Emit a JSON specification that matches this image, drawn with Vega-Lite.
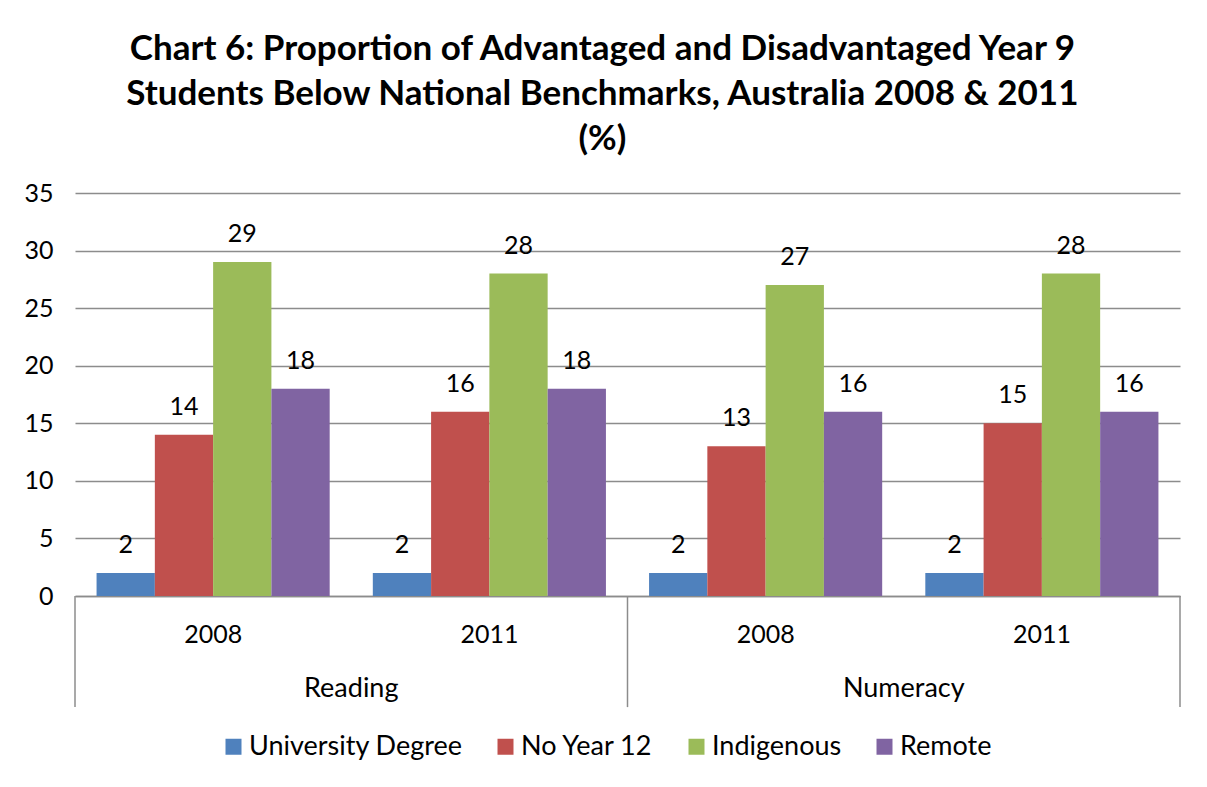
{
  "$schema": "https://vega.github.io/schema/vega-lite/v6.json",
  "width": 1105,
  "height": 403,
  "padding": {"left": 23, "top": 32, "right": 25, "bottom": 10},
  "background": "white",
  "config": {
    "font": "Lato",
    "view": {"stroke": null},
    "text": {"font": "Lato", "color": "black"}
  },
  "title": {
    "text": ["Chart 6: Proportion of Advantaged and Disadvantaged Year 9", "Students Below National Benchmarks, Australia 2008 & 2011", "(%)"],
    "fontSize": 35,
    "fontWeight": "bold",
    "font": "Lato",
    "lineHeight": 45,
    "anchor": "middle",
    "frame": "bounds",
    "color": "black",
    "offset": 24
  },
  "data": {
    "values": [
      {"subject": "Reading", "year": "2008", "group": "Reading 2008", "series": "University Degree", "value": 2},
      {"subject": "Reading", "year": "2008", "group": "Reading 2008", "series": "No Year 12", "value": 14},
      {"subject": "Reading", "year": "2008", "group": "Reading 2008", "series": "Indigenous", "value": 29},
      {"subject": "Reading", "year": "2008", "group": "Reading 2008", "series": "Remote", "value": 18},
      {"subject": "Reading", "year": "2011", "group": "Reading 2011", "series": "University Degree", "value": 2},
      {"subject": "Reading", "year": "2011", "group": "Reading 2011", "series": "No Year 12", "value": 16},
      {"subject": "Reading", "year": "2011", "group": "Reading 2011", "series": "Indigenous", "value": 28},
      {"subject": "Reading", "year": "2011", "group": "Reading 2011", "series": "Remote", "value": 18},
      {"subject": "Numeracy", "year": "2008", "group": "Numeracy 2008", "series": "University Degree", "value": 2},
      {"subject": "Numeracy", "year": "2008", "group": "Numeracy 2008", "series": "No Year 12", "value": 13},
      {"subject": "Numeracy", "year": "2008", "group": "Numeracy 2008", "series": "Indigenous", "value": 27},
      {"subject": "Numeracy", "year": "2008", "group": "Numeracy 2008", "series": "Remote", "value": 16},
      {"subject": "Numeracy", "year": "2011", "group": "Numeracy 2011", "series": "University Degree", "value": 2},
      {"subject": "Numeracy", "year": "2011", "group": "Numeracy 2011", "series": "No Year 12", "value": 15},
      {"subject": "Numeracy", "year": "2011", "group": "Numeracy 2011", "series": "Indigenous", "value": 28},
      {"subject": "Numeracy", "year": "2011", "group": "Numeracy 2011", "series": "Remote", "value": 16}
    ]
  },
  "encoding": {
    "x": {
      "field": "group",
      "type": "nominal",
      "sort": ["Reading 2008", "Reading 2011", "Numeracy 2008", "Numeracy 2011"],
      "scale": {"domain": ["Reading 2008", "Reading 2011", "Numeracy 2008", "Numeracy 2011"], "paddingInner": 0, "paddingOuter": 0},
      "axis": {
        "title": null,
        "labelExpr": "split(datum.label, ' ')[1]",
        "labelAngle": 0,
        "labelFontSize": 25,
        "labelColor": "black",
        "labelPadding": 26,
        "ticks": false,
        "domain": true,
        "domainColor": "#8c8c8c",
        "domainWidth": 1.5,
        "grid": false
      }
    }
  },
  "layer": [
    {
      "mark": {"type": "bar"},
      "encoding": {
        "xOffset": {
          "field": "series",
          "type": "nominal",
          "sort": ["University Degree", "No Year 12", "Indigenous", "Remote"],
          "scale": {"paddingInner": 0, "paddingOuter": 0.37}
        },
        "y": {
          "field": "value",
          "type": "quantitative",
          "scale": {"domain": [0, 35], "nice": false, "zero": true},
          "axis": {
            "title": null,
            "values": [0, 5, 10, 15, 20, 25, 30, 35],
            "labelFontSize": 25,
            "labelColor": "black",
            "labelPadding": 22,
            "ticks": false,
            "domain": false,
            "grid": true,
            "gridColor": "#8c8c8c",
            "gridWidth": 1.5
          }
        },
        "color": {
          "field": "series",
          "type": "nominal",
          "sort": ["University Degree", "No Year 12", "Indigenous", "Remote"],
          "scale": {"domain": ["University Degree", "No Year 12", "Indigenous", "Remote"], "range": ["#4F81BD", "#C0504D", "#9BBB59", "#8064A2"]},
          "legend": {
            "title": null,
            "orient": "none",
            "legendX": 145,
            "legendY": 540,
            "direction": "horizontal",
            "symbolType": "square",
            "symbolSize": 256,
            "symbolStrokeWidth": 0,
            "symbolOffset": 0,
            "labelOffset": 2,
            "labelFontSize": 27,
            "labelColor": "black",
            "labelLimit": 400,
            "columnPadding": 29
          }
        }
      }
    },
    {
      "mark": {"type": "text", "baseline": "bottom", "dy": -15, "fontSize": 25},
      "encoding": {
        "xOffset": {
          "field": "series",
          "type": "nominal",
          "sort": ["University Degree", "No Year 12", "Indigenous", "Remote"],
          "scale": {"paddingInner": 0, "paddingOuter": 0.37}
        },
        "y": {"field": "value", "type": "quantitative"},
        "text": {"field": "value", "type": "quantitative"}
      }
    },
    {
      "data": {"values": [{"group": "Reading 2008"}, {"group": "Numeracy 2008"}]},
      "mark": {"type": "rule", "color": "#8c8c8c", "strokeWidth": 1.5},
      "encoding": {
        "x": {"field": "group", "type": "nominal", "bandPosition": 0},
        "y": {"datum": 0},
        "y2": {"datum": -9.65}
      }
    },
    {
      "data": {"values": [{"group": "Numeracy 2011"}]},
      "mark": {"type": "rule", "color": "#8c8c8c", "strokeWidth": 1.5},
      "encoding": {
        "x": {"field": "group", "type": "nominal", "bandPosition": 1},
        "y": {"datum": 0},
        "y2": {"datum": -9.65}
      }
    },
    {
      "data": {"values": [{"group": "Reading 2008", "subject": "Reading"}, {"group": "Numeracy 2008", "subject": "Numeracy"}]},
      "mark": {"type": "text", "fontSize": 27, "baseline": "middle"},
      "encoding": {
        "x": {"field": "group", "type": "nominal", "bandPosition": 1},
        "y": {"datum": -8.1},
        "text": {"field": "subject", "type": "nominal"}
      }
    }
  ]
}
